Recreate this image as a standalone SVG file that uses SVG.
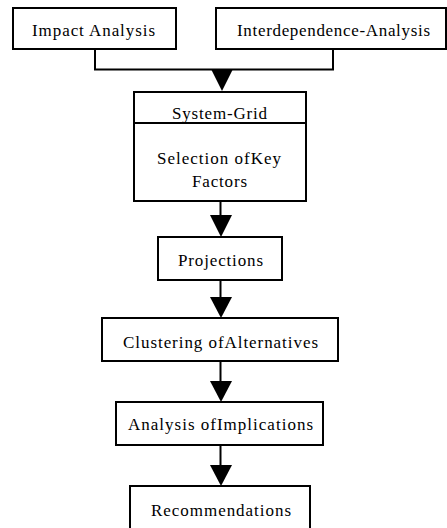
<svg xmlns="http://www.w3.org/2000/svg" width="447" height="528" viewBox="0 0 447 528">
<style>
.box{fill:#fff;stroke:#000;stroke-width:2}
.t{font-family:'Liberation Serif','Times New Roman',Times,serif;font-size:17px;fill:#000;text-anchor:middle}
.ln{fill:none;stroke:#000;stroke-width:2}
.ah{fill:#000}
</style>
<rect width="447" height="528" fill="#fff"/>
<g id="connectors">
<polyline class="ln" points="95,49 95,69.5 333,69.5 333,49"/>
<polygon class="ah" points="211,69 233,69 222,91"/>
<line class="ln" x1="220.5" y1="201" x2="220.5" y2="216"/>
<polygon class="ah" points="210,215 232,215 221,237"/>
<line class="ln" x1="220.5" y1="280" x2="220.5" y2="298"/>
<polygon class="ah" points="210,297 232,297 221,318"/>
<line class="ln" x1="220.5" y1="361" x2="220.5" y2="382"/>
<polygon class="ah" points="210,381 232,381 221,402"/>
<line class="ln" x1="220.5" y1="445" x2="220.5" y2="466"/>
<polygon class="ah" points="210,465 232,465 221,486"/>
</g>
<g id="impact">
<rect class="box" x="13" y="8" width="163" height="41"/>
<text class="t" x="93.5" y="36" textLength="123" lengthAdjust="spacing">Impact Analysis</text>
</g>
<g id="interdependence">
<rect class="box" x="216" y="8" width="230" height="41"/>
<text class="t" x="333.5" y="36" textLength="193" lengthAdjust="spacing">Interdependence-Analysis</text>
</g>
<g id="system-grid">
<rect class="box" x="134" y="92" width="172" height="109"/>
<line class="ln" x1="134" y1="123" x2="306" y2="123"/>
<text class="t" x="219.5" y="119" textLength="95" lengthAdjust="spacing">System-Grid</text>
<text class="t" x="219" y="164" textLength="124" lengthAdjust="spacing">Selection ofKey</text>
<text class="t" x="219.5" y="187" textLength="55" lengthAdjust="spacing">Factors</text>
</g>
<g id="projections">
<rect class="box" x="158" y="237" width="124" height="43"/>
<text class="t" x="220.5" y="266" textLength="85" lengthAdjust="spacing">Projections</text>
</g>
<g id="clustering">
<rect class="box" x="102" y="318" width="236" height="43"/>
<text class="t" x="220.5" y="348" textLength="195" lengthAdjust="spacing">Clustering ofAlternatives</text>
</g>
<g id="implications">
<rect class="box" x="116" y="402" width="207" height="43"/>
<text class="t" x="220.5" y="430" textLength="185" lengthAdjust="spacing">Analysis ofImplications</text>
</g>
<g id="recommendations">
<rect class="box" x="130" y="486" width="180" height="60"/>
<text class="t" x="221" y="516" textLength="140" lengthAdjust="spacing">Recommendations</text>
</g>
</svg>
